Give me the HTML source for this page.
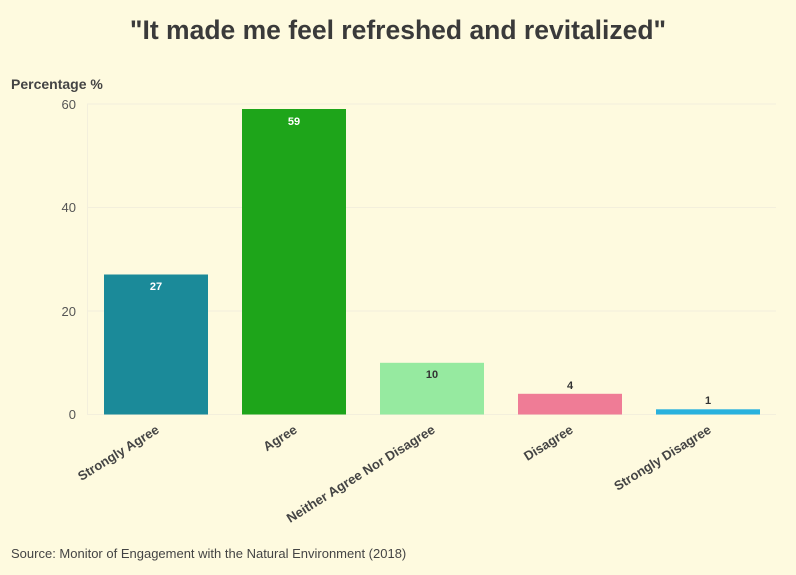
<!DOCTYPE html>
<html><head><meta charset="utf-8"><style>
html,body{margin:0;padding:0;background:#fefadf;}
svg{display:block;font-family:"Liberation Sans",sans-serif;}
</style></head><body>
<svg width="796" height="575" viewBox="0 0 796 575" xmlns="http://www.w3.org/2000/svg">
<rect width="796" height="575" fill="#fefadf"/>
<text x="398" y="39" text-anchor="middle" font-size="26.5" font-weight="bold" fill="#3a3a3a">"It made me feel refreshed and revitalized"</text>
<text x="11" y="89" font-size="14" font-weight="bold" fill="#444">Percentage %</text>
<g stroke="#f3efdc" stroke-width="1">
<line x1="87" y1="104" x2="776" y2="104"/>
<line x1="87" y1="207.5" x2="776" y2="207.5"/>
<line x1="87" y1="311" x2="776" y2="311"/>
<line x1="87" y1="414.5" x2="776" y2="414.5"/>
<line x1="87.5" y1="104" x2="87.5" y2="414"/>
</g>
<g font-size="13" fill="#555" text-anchor="end">
<text x="76" y="109">60</text>
<text x="76" y="212">40</text>
<text x="76" y="316">20</text>
<text x="76" y="419">0</text>
</g>
<rect x="104" y="274.5" width="104" height="140" fill="#1b8a99"/>
<rect x="242" y="109" width="104" height="305.5" fill="#1ea51a"/>
<rect x="380" y="362.8" width="104" height="51.7" fill="#96eaa0"/>
<rect x="518" y="393.8" width="104" height="20.7" fill="#ef7c96"/>
<rect x="656" y="409.3" width="104" height="5.2" fill="#29b1dd"/>
<g font-size="11" font-weight="bold" text-anchor="middle">
<text x="156" y="290" fill="#fff">27</text>
<text x="294" y="125" fill="#fff">59</text>
<text x="432" y="378" fill="#333">10</text>
<text x="570" y="389" fill="#333">4</text>
<text x="708" y="404" fill="#333">1</text>
</g>
<g font-size="13" font-weight="bold" fill="#444" text-anchor="end">
<text transform="translate(160,432) rotate(-32)">Strongly Agree</text>
<text transform="translate(298,432) rotate(-32)">Agree</text>
<text transform="translate(436,432) rotate(-32)" textLength="172" lengthAdjust="spacingAndGlyphs">Neither Agree Nor Disagree</text>
<text transform="translate(574,432) rotate(-32)">Disagree</text>
<text transform="translate(712,432) rotate(-32)">Strongly Disagree</text>
</g>
<text x="11" y="558" font-size="13" fill="#444">Source: Monitor of Engagement with the Natural Environment (2018)</text>
</svg>
</body></html>
